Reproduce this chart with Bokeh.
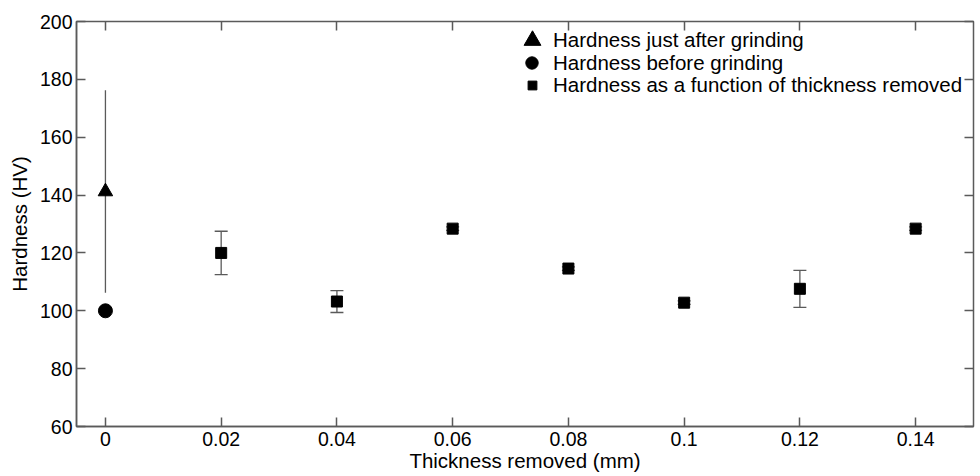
from bokeh.plotting import figure
from bokeh.models import (Range1d, LinearAxis, FixedTicker, Whisker, ColumnDataSource,
                          TeeHead, Legend, LegendItem, CustomJSTickFormatter)
from bokeh.embed import file_html
from bokeh.resources import INLINE

# ---- data ----
thickness = [0.02, 0.04, 0.06, 0.08, 0.10, 0.12, 0.14]
hardness = [120.0, 103.2, 128.4, 114.6, 102.8, 107.6, 128.4]
hardness_err = [7.5, 3.8, 0.6, 0.6, 0.6, 6.4, 0.6]

after_x = [0.0]
after_y = [141.2]
after_err = [35.0]

before_x = [0.0]
before_y = [100.0]

x_ticks = [0.0, 0.02, 0.04, 0.06, 0.08, 0.10, 0.12, 0.14]
x_tick_labels = ["0", "0.02", "0.04", "0.06", "0.08", "0.1", "0.12", "0.14"]
y_ticks = [60, 80, 100, 120, 140, 160, 180, 200]

legend_labels = ["Hardness just after grinding", "Hardness before grinding",
                 "Hardness as a function of thickness removed"]

FONT = "Liberation Sans"
GREY = "#5a5a5a"

p = figure(width=980, height=476, output_backend="svg", toolbar_location=None,
           x_range=Range1d(-0.005, 0.15), y_range=Range1d(60, 200),
           min_border_left=76, min_border_right=7, min_border_top=21, min_border_bottom=50)
p.xgrid.visible = False
p.ygrid.visible = False
p.outline_line_color = GREY
p.outline_line_width = 1.5
p.background_fill_color = "white"
p.border_fill_color = "white"

# main axes
xa = p.xaxis[0]
ya = p.yaxis[0]
xa.ticker = FixedTicker(ticks=x_ticks)
xa.major_label_overrides = {t: l for t, l in zip(x_ticks, x_tick_labels)}
ya.ticker = FixedTicker(ticks=y_ticks)
for ax in (xa, ya):
    ax.axis_line_color = GREY
    ax.axis_line_width = 1.5
    ax.major_tick_in = 9
    ax.major_tick_out = 0
    ax.major_tick_line_color = GREY
    ax.major_tick_line_width = 1.5
    ax.minor_tick_line_color = None
    ax.major_label_text_font = FONT
    ax.major_label_text_font_size = "19.5px"
    ax.major_label_text_color = "black"
    ax.axis_label_text_font = FONT
    ax.axis_label_text_font_size = "20.5px"
    ax.axis_label_text_font_style = "normal"
    ax.axis_label_text_color = "black"
xa.axis_label = "Thickness removed (mm)"
ya.axis_label = "Hardness (HV)"
xa.major_label_standoff = 5
xa.axis_label_standoff = 0
ya.major_label_standoff = 4
ya.axis_label_standoff = 6

# mirrored tick axes (no labels)
empty = CustomJSTickFormatter(code="return ''")
top = LinearAxis(ticker=FixedTicker(ticks=x_ticks), formatter=empty)
right = LinearAxis(ticker=FixedTicker(ticks=y_ticks), formatter=empty)
for ax in (top, right):
    ax.axis_line_color = None
    ax.major_tick_in = 9
    ax.major_tick_out = 0
    ax.major_tick_line_color = GREY
    ax.major_tick_line_width = 1.5
    ax.minor_tick_line_color = None
    ax.major_label_standoff = 0
    ax.major_label_text_font_size = "1px"
p.add_layout(top, "above")
p.add_layout(right, "right")

# error bars
src = ColumnDataSource(dict(x=thickness, y=hardness,
                            lo=[h - e for h, e in zip(hardness, hardness_err)],
                            hi=[h + e for h, e in zip(hardness, hardness_err)]))
w = Whisker(source=src, base="x", lower="lo", upper="hi",
            line_color=GREY, line_width=1.3,
            upper_head=TeeHead(size=13, line_color=GREY, line_width=1.3),
            lower_head=TeeHead(size=13, line_color=GREY, line_width=1.3))
p.add_layout(w)

asrc = ColumnDataSource(dict(x=after_x, y=after_y,
                             lo=[h - e for h, e in zip(after_y, after_err)],
                             hi=[h + e for h, e in zip(after_y, after_err)]))
w2 = Whisker(source=asrc, base="x", lower="lo", upper="hi",
             line_color=GREY, line_width=1.3, upper_head=None, lower_head=None)
p.add_layout(w2)

# markers
r_tri = p.scatter(after_x, after_y, marker="triangle", size=14.5, color="black")
r_cir = p.scatter(before_x, before_y, marker="circle", size=14, color="black")
r_sq = p.scatter(thickness, hardness, marker="square", size=11, color="black")

# one legend per entry so each legend marker can have its own size
# (glyph box w, glyph box h, standoff, location relative to the frame's bottom-left)
legend_specs = [(r_tri, 42, 42, 0, (435, 365)),
                (r_cir, 31, 31, 6, (440, 348)),
                (r_sq, 22, 28, 10, (445, 327.5))]
for label, (rend, gw, gh, stand, loc) in zip(legend_labels, legend_specs):
    lg = Legend(items=[LegendItem(label=label, renderers=[rend])], location=loc)
    lg.border_line_color = None
    lg.background_fill_alpha = 0
    lg.label_text_font = FONT
    lg.label_text_font_size = "20.5px"
    lg.label_text_color = "black"
    lg.glyph_width = gw
    lg.glyph_height = gh
    lg.label_height = gh
    lg.label_standoff = stand
    lg.spacing = 0
    lg.padding = 0
    lg.margin = 0
    p.add_layout(lg, "center")

open("out.html", "w").write(file_html(p, INLINE))
